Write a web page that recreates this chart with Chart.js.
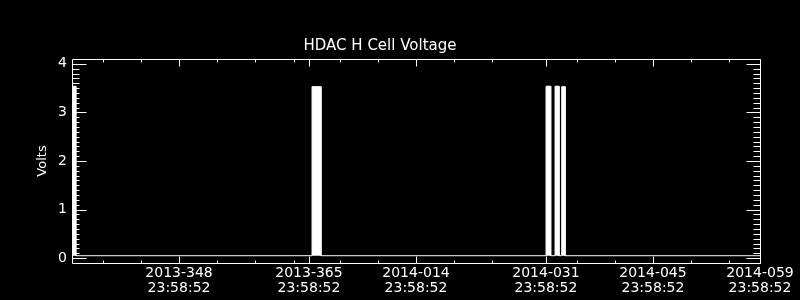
<!DOCTYPE html>
<html>
<head>
<meta charset="utf-8">
<title>HDAC H Cell Voltage</title>
<script src="https://cdn.jsdelivr.net/npm/chart.js@4"></script>
<style>
  html, body { margin: 0; padding: 0; background: #000; }
  #chart { display: block; }
</style>
</head>
<body>
<canvas id="chart" width="800" height="300"></canvas>
<script>
// Time axis: day number counted from 2013-000, carrying on past 365, all at 23:58:52
const X_MIN = 334;
const X_MAX = 424;
const tickDays = [348, 365, 379, 396, 410, 424];
const tickDates = ['2013-348', '2013-365', '2014-014', '2014-031', '2014-045', '2014-059'];
const tickTimes = ['23:58:52', '23:58:52', '23:58:52', '23:58:52', '23:58:52', '23:58:52'];
const minorDays = [338, 343, 353, 358, 363, 369, 374, 384, 389, 400, 405, 415, 420];
const voltTicks = [0, 1, 2, 3, 4];

// Cell voltage: sits near zero, with short bursts near 3.5 V
const baseVolts = 0.05;
const pulseStart = [334.1, 365.40, 396.01, 397.19, 398.06];
const pulseEnd = [334.5, 366.57, 396.62, 397.71, 398.50];
const pulseVolts = [3.54, 3.53, 3.54, 3.54, 3.53];

const FONT = { family: 'DejaVu Sans', size: 14, weight: 'normal', lineHeight: '15px' };

// Build the step trace from the bursts
const points = [{ x: X_MIN, y: baseVolts }];
pulseStart.forEach((start, i) => {
    points.push({ x: start, y: baseVolts });
    points.push({ x: start, y: pulseVolts[i] });
    points.push({ x: pulseEnd[i], y: pulseVolts[i] });
    points.push({ x: pulseEnd[i], y: baseVolts });
});
points.push({ x: X_MAX, y: baseVolts });

// Black page, box round the plot and inward tick marks
const framePlugin = {
    id: 'frame',
    beforeDraw(chart) {
        const ctx = chart.ctx;
        ctx.save();
        ctx.fillStyle = '#000';
        ctx.fillRect(0, 0, chart.width, chart.height);
        ctx.restore();
    },
    afterDatasetsDraw(chart) {
        const { ctx, chartArea: a, scales: { x, y } } = chart;
        const L = Math.round(a.left) + 0.5;
        const R = Math.round(a.right) + 0.5;
        const T = Math.round(a.top) + 0.5;
        const B = Math.round(a.bottom) + 0.5;
        ctx.save();
        ctx.strokeStyle = '#fff';
        ctx.lineWidth = 1;
        ctx.beginPath();
        ctx.rect(L, T, R - L, B - T);

        const xMark = (day, len) => {
            const px = Math.round(x.getPixelForValue(day)) + 0.5;
            ctx.moveTo(px, B); ctx.lineTo(px, B - len);
            ctx.moveTo(px, T); ctx.lineTo(px, T + len);
        };
        tickDays.forEach(d => xMark(d, 7));
        minorDays.forEach(d => xMark(d, 3));

        const yMark = (v, len) => {
            const py = Math.round(y.getPixelForValue(v)) + 0.5;
            ctx.moveTo(L, py); ctx.lineTo(L + len, py);
            ctx.moveTo(R, py); ctx.lineTo(R - len, py);
        };
        for (let k = 0; k <= 40; k++) {
            yMark(k / 10, k % 10 === 0 ? 14 : 7);
        }
        ctx.stroke();
        ctx.restore();
    }
};

Chart.defaults.color = '#fff';

const ctx = document.getElementById('chart').getContext('2d');
new Chart(ctx, {
    type: 'line',
    data: {
        datasets: [{
            data: points,
            borderColor: '#fff',
            backgroundColor: '#fff',
            borderWidth: 1,
            pointRadius: 0,
            tension: 0,
            fill: { value: baseVolts }
        }]
    },
    options: {
        responsive: false,
        animation: false,
        layout: { padding: { left: 0, right: 40, top: 0, bottom: 0 } },
        plugins: {
            legend: { display: false },
            tooltip: { enabled: false },
            title: {
                display: true,
                text: 'HDAC H Cell Voltage',
                color: '#fff',
                font: { family: 'DejaVu Sans', size: 15, weight: 'normal', lineHeight: '16px' },
                padding: { top: 38, bottom: 5 }
            }
        },
        scales: {
            x: {
                type: 'linear',
                min: X_MIN,
                max: X_MAX,
                grid: { display: false, drawTicks: false },
                border: { display: false },
                afterBuildTicks: scale => {
                    scale.ticks = tickDays.map(v => ({ value: v }));
                },
                afterFit: scale => { scale.height = 37; },
                ticks: {
                    padding: 3,
                    autoSkip: false,
                    maxRotation: 0,
                    color: '#fff',
                    font: FONT,
                    callback: value => {
                        const i = tickDays.indexOf(value);
                        return [tickDates[i], tickTimes[i]];
                    }
                }
            },
            y: {
                min: -0.1,
                max: 4.1,
                grid: { display: false, drawTicks: false },
                border: { display: false },
                afterBuildTicks: scale => {
                    scale.ticks = voltTicks.map(v => ({ value: v }));
                },
                afterFit: scale => { scale.width = 72; },
                ticks: {
                    padding: 5,
                    color: '#fff',
                    font: FONT,
                    callback: value => String(value)
                },
                title: {
                    display: true,
                    text: 'Volts',
                    color: '#fff',
                    font: { family: 'DejaVu Sans', size: 13, weight: 'normal', lineHeight: '16px' },
                    padding: { top: 35, bottom: 0 }
                }
            }
        }
    },
    plugins: [framePlugin]
});
</script>
</body>
</html>
